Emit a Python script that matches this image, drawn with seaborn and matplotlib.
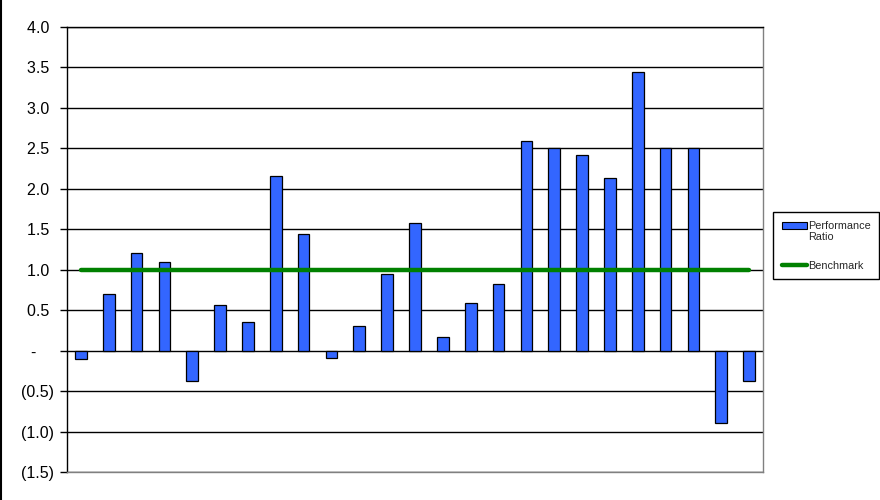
import numpy as np
import pandas as pd
import matplotlib
matplotlib.use("Agg")
import matplotlib.pyplot as plt
from matplotlib.ticker import FuncFormatter
from matplotlib.patches import Patch, Rectangle
from matplotlib.lines import Line2D
from matplotlib.legend_handler import HandlerPatch
import seaborn as sns

# ---- data ----
positions = list(range(1, 26))
performance_ratio = [-0.10, 0.70, 1.21, 1.09, -0.37, 0.57, 0.35, 2.16, 1.44, -0.09,
                     0.30, 0.95, 1.58, 0.17, 0.59, 0.82, 2.59, 2.50, 2.42, 2.13,
                     3.44, 2.50, 2.50, -0.90, -0.38]
benchmark = [1.0] * 25
y_ticks = [-1.5, -1.0, -0.5, 0.0, 0.5, 1.0, 1.5, 2.0, 2.5, 3.0, 3.5, 4.0]

df = pd.DataFrame({"pos": positions, "ratio": performance_ratio, "bench": benchmark})

sns.set_style("white")
plt.rcParams["font.family"] = ["Liberation Sans", "DejaVu Sans"]

fig = plt.figure(figsize=(8.8, 5.0), dpi=100)
ax = fig.add_axes([67 / 880, 28 / 500, (763 - 67) / 880, (472 - 27) / 500])

bar_color = "#3366FF"
sns.barplot(data=df, x="pos", y="ratio", native_scale=True, width=0.42,
            color=bar_color, edgecolor="black", linewidth=0.9, saturation=1,
            ax=ax, zorder=3)
sns.lineplot(data=df, x="pos", y="bench", color="#008000", linewidth=3.2,
             ax=ax, zorder=4)

ax.set_xlim(0.5, 25.5)
ax.set_ylim(-1.5, 4.0)
ax.set_yticks(y_ticks)


def fmt(v, _):
    if abs(v) < 1e-9:
        return "-\u2007  "
    if v < 0:
        return f"({abs(v):.1f})"
    return f"{v:.1f} "


ax.yaxis.set_major_formatter(FuncFormatter(fmt))
ax.set_xticks([])
ax.set_xlabel("")
ax.set_ylabel("")
ax.grid(axis="y", color="black", linewidth=1.0, zorder=0)
ax.set_axisbelow(True)

ax.tick_params(axis="y", left=True, direction="out", length=5, width=1,
               color="black", labelsize=11.5, pad=4.5, labelcolor="black")

ax.spines["left"].set_color("black")
ax.spines["top"].set_color("black")
for s in ["left", "top", "right", "bottom"]:
    ax.spines[s].set_linewidth(1.0)
for s in ["right", "bottom"]:
    ax.spines[s].set_color("#808080")


def top_patch(legend, orig_handle, xdescent, ydescent, width, height, fontsize):
    return Rectangle((-xdescent, -ydescent + 0.6 * fontsize), width, height)


handles = [Patch(facecolor=bar_color, edgecolor="black", linewidth=0.8),
           Line2D([0], [0], color="#008000", linewidth=3.2)]
leg = fig.legend(handles, ["Performance\nRatio", "Benchmark"],
                 loc="upper left", bbox_to_anchor=(773 / 880, 1 - 212 / 500),
                 bbox_transform=fig.transFigure, fontsize=7.8, frameon=True,
                 fancybox=False, edgecolor="black", framealpha=1,
                 handlelength=2.3, handleheight=0.6, handletextpad=0.1,
                 labelspacing=1.7, borderpad=0.8, borderaxespad=0,
                 handler_map={Patch: HandlerPatch(patch_func=top_patch)})
leg.get_frame().set_linewidth(1.0)

fig.add_artist(Line2D([0.0006, 0.0006], [0, 1], color="black", linewidth=1.5,
                      transform=fig.transFigure))

fig.savefig("out.png", dpi=100)
